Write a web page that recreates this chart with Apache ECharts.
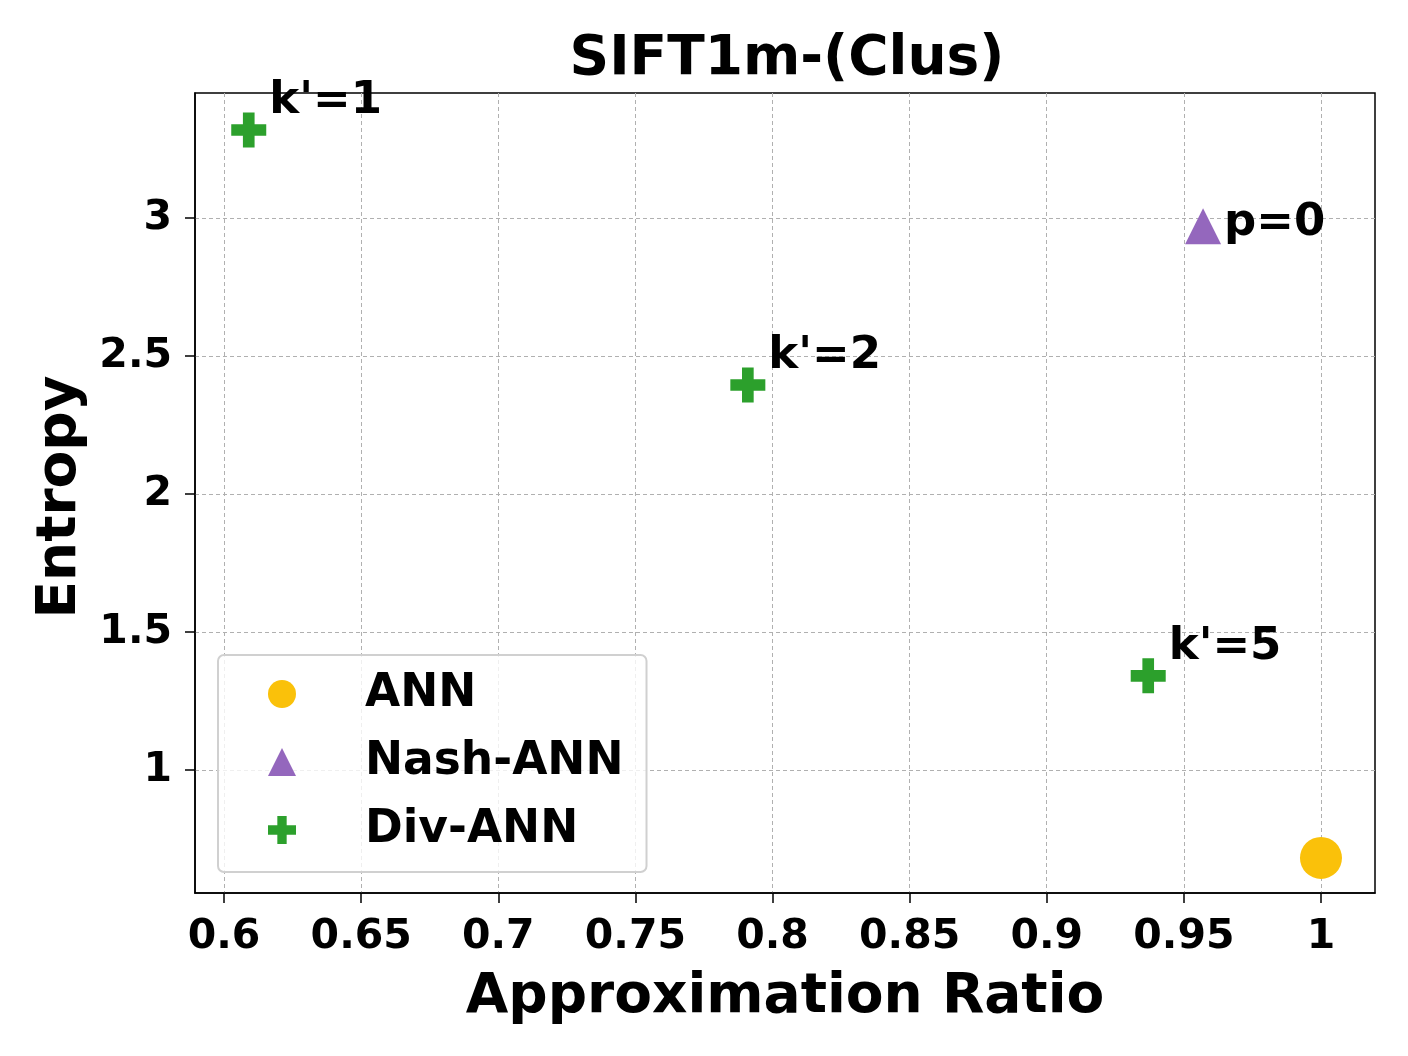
<!DOCTYPE html>
<html>
<head>
<meta charset="utf-8">
<script src="https://cdn.jsdelivr.net/npm/echarts@6/dist/echarts.min.js"></script>
<style>
html,body{margin:0;padding:0;background:#fff;}
#chart{width:1408px;height:1056px;}
</style>
</head>
<body>
<div id="chart"></div>
<script>
// ---- data ----
const annX = [1.0];
const annY = [0.681];
const nashX = [0.957];
const nashY = [2.970];
const nashLabels = ['p=0'];
const divX = [0.609, 0.791, 0.937];
const divY = [3.319, 2.395, 1.341];
const divLabels = ["k'=1", "k'=2", "k'=5"];
const xTicks = [0.6, 0.65, 0.7, 0.75, 0.8, 0.85, 0.9, 0.95, 1];
const yTicks = [1, 1.5, 2, 2.5, 3];

const FONT = 'DejaVu Sans';
const PLUS = 'path://M4,0H8V4H12V8H8V12H4V8H0V4H4Z';

function pts(xs, ys, labels) {
  return xs.map((x, i) => labels ? { value: [x, ys[i]], name: labels[i] } : [x, ys[i]]);
}

const chart = echarts.init(document.getElementById('chart'), null, { renderer: 'canvas' });
const labelStyle = {
  show: true, position: 'right', formatter: '{b}',
  fontFamily: FONT, fontWeight: 'bold', fontSize: 45, color: '#000'
};
chart.setOption({
  animation: false,
  backgroundColor: '#fff',
  title: {
    text: 'SIFT1m-(Clus)', left: 782, top: 27, textAlign: 'center',
    textStyle: { fontFamily: FONT, fontWeight: 'bold', fontSize: 55, color: '#000' }
  },
  grid: {
    left: 195, top: 93, right: 33, bottom: 163,
    show: true, borderColor: '#000', borderWidth: 1.5, backgroundColor: 'transparent'
  },
  legend: {
    orient: 'vertical', left: 218, top: 655,
    itemWidth: 28, itemHeight: 28, itemGap: 22,
    padding: [16, 23, 19, 50],
    backgroundColor: 'rgba(255,255,255,0.8)',
    borderColor: '#d0d0d0', borderWidth: 2, borderRadius: 6,
    textStyle: { fontFamily: FONT, fontWeight: 'bold', fontSize: 45.5, color: '#000', lineHeight: 44, padding: [0, 0, 0, 64] },
    data: ['ANN', 'Nash-ANN', 'Div-ANN'],
    z: 10
  },
  xAxis: {
    type: 'value', min: 0.5894, max: 1.0197,
    name: 'Approximation Ratio', nameLocation: 'middle', nameGap: 77,
    nameTextStyle: { fontFamily: FONT, fontWeight: 'bold', fontSize: 55, color: '#000' },
    axisLine: { show: true, lineStyle: { color: '#000', width: 1.5 } },
    axisTick: { show: true, length: 10, lineStyle: { color: '#000', width: 1.5 }, customValues: xTicks },
    axisLabel: { customValues: xTicks, margin: 24, fontFamily: FONT, fontWeight: 'bold', fontSize: 41, color: '#000',
      formatter: v => String(+v.toFixed(2)) },
    splitLine: { show: true, lineStyle: { color: '#b0b0b0', type: [4, 3], width: 1 } }
  },
  yAxis: {
    type: 'value', min: 0.554, max: 3.453,
    name: 'Entropy', nameLocation: 'middle', nameGap: 103, nameRotate: 90,
    nameTextStyle: { fontFamily: FONT, fontWeight: 'bold', fontSize: 55, color: '#000', padding: [0, 8, 0, 0] },
    axisLine: { show: true, lineStyle: { color: '#000', width: 1.5 } },
    axisTick: { show: true, length: 10, lineStyle: { color: '#000', width: 1.5 }, customValues: yTicks },
    axisLabel: { customValues: yTicks, margin: 23, fontFamily: FONT, fontWeight: 'bold', fontSize: 41, color: '#000',
      formatter: v => String(+v.toFixed(2)) },
    splitLine: { show: true, lineStyle: { color: '#b0b0b0', type: [4, 3], width: 1 } }
  },
  series: [
    {
      name: 'ANN', type: 'scatter', symbol: 'circle', symbolSize: 42,
      itemStyle: { color: '#FAC10A', opacity: 1 },
      data: pts(annX, annY), z: 3
    },
    {
      name: 'Nash-ANN', type: 'scatter', symbol: 'triangle', symbolSize: [36, 36],
      itemStyle: { color: '#9467bd', opacity: 1 },
      label: Object.assign({}, labelStyle, { distance: 3, offset: [0, -3] }),
      data: pts(nashX, nashY, nashLabels), z: 3
    },
    {
      name: 'Div-ANN', type: 'scatter', symbol: PLUS, symbolSize: 35,
      itemStyle: { color: '#2ca02c', opacity: 1 },
      label: Object.assign({}, labelStyle, { distance: 3, offset: [0, -29] }),
      data: pts(divX, divY, divLabels), z: 3
    }
  ]
});
</script>
</body>
</html>
